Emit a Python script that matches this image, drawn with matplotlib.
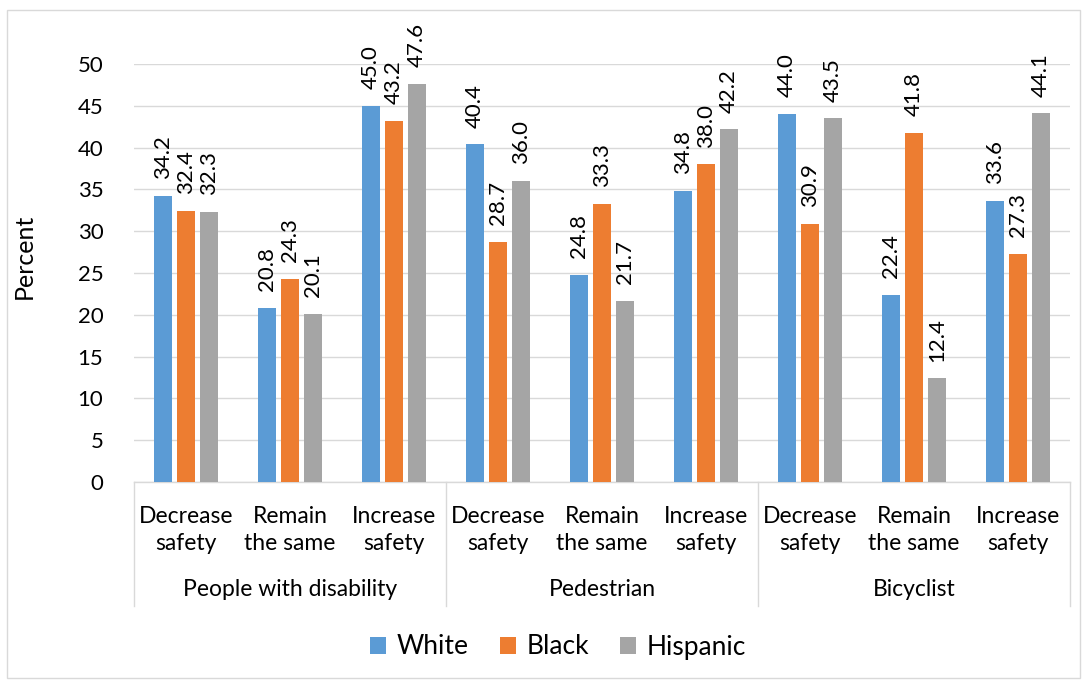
import matplotlib
matplotlib.use("Agg")
import matplotlib.pyplot as plt
from matplotlib.patches import Rectangle, Patch
from matplotlib.lines import Line2D
import numpy as np

plt.rcParams['font.family'] = ['Lato', 'DejaVu Sans']

groups = ["People with disability", "Pedestrian", "Bicyclist"]
responses = ["Decrease\nsafety", "Remain\nthe same", "Increase\nsafety"]
series = ["White", "Black", "Hispanic"]
white = [34.2, 20.8, 45.0, 40.4, 24.8, 34.8, 44.0, 22.4, 33.6]
black = [32.4, 24.3, 43.2, 28.7, 33.3, 38.0, 30.9, 41.8, 27.3]
hispanic = [32.3, 20.1, 47.6, 36.0, 21.7, 42.2, 43.5, 12.4, 44.1]
colors = ["#5B9BD5", "#ED7D31", "#A5A5A5"]
yticks = [0, 5, 10, 15, 20, 25, 30, 35, 40, 45, 50]

W, H = 1086, 681
fig = plt.figure(figsize=(W / 100, H / 100), dpi=100)
fig.patches.append(Rectangle((7 / W, 3 / H), 1073 / W, 668 / H, transform=fig.transFigure,
                             fill=False, edgecolor="#d9d9d9", linewidth=1.0))

left, right, bottom, top = 134, 1070, 482, 64
ax = fig.add_axes([left / W, 1 - bottom / H, (right - left) / W, (bottom - top) / H])

n = len(white)
x = np.arange(n)
bw = 0.175
step = 0.222
for i, (vals, col, name) in enumerate(zip([white, black, hispanic], colors, series)):
    pos = x + (i - 1) * step
    ax.bar(pos, vals, width=bw, color=col, label=name, zorder=3)
    for p, v in zip(pos, vals):
        ax.annotate(f"{v:.1f}", (p, v), xytext=(0, 12), textcoords="offset points",
                    rotation=90, ha="center", va="bottom", fontsize=16,
                    color="#000000", annotation_clip=False)

ax.set_xlim(-0.5, n - 0.5)
ax.set_ylim(0, 50)
ax.set_yticks(yticks)
ax.tick_params(axis="y", length=0, labelsize=16, pad=22)
ax.tick_params(axis="x", length=0, labelbottom=False)
ax.yaxis.grid(True, color="#d9d9d9", linewidth=1.0, zorder=0)
ax.set_axisbelow(True)
for s in ["top", "right", "left"]:
    ax.spines[s].set_visible(False)
ax.spines["bottom"].set_color("#d9d9d9")
ax.spines["bottom"].set_linewidth(1.0)

ax.set_ylabel("Percent", fontsize=18, labelpad=0)
ax.yaxis.set_label_coords(-(134 - 36) / (right - left), (bottom - 256) / (bottom - top))

# category labels and group labels under the axis
px_to_ax = 1.0 / (bottom - top)
trans = ax.get_xaxis_transform()
for k in range(n):
    ax.text(k, -(530 - bottom) * px_to_ax, responses[k % 3], transform=trans,
            ha="center", va="center", fontsize=16.5, linespacing=1.38)
for g, name in enumerate(groups):
    ax.text(3 * g + 1, -(590 - bottom) * px_to_ax, name, transform=trans,
            ha="center", va="center", fontsize=16.5)
for b in [-0.5, 2.5, 5.5, 8.5]:
    ax.add_line(Line2D([b, b], [0, -(606 - bottom) * px_to_ax], transform=trans,
                       color="#d9d9d9", linewidth=1.0, clip_on=False))

handles = [Patch(facecolor=c, edgecolor="none") for c in colors]
fig.legend(handles, series, loc="center", bbox_to_anchor=(558 / W, 1 - 647 / H),
           ncol=3, frameon=False, fontsize=19, handlelength=0.6, handleheight=0.6,
           handletextpad=0.4, columnspacing=1.2)

fig.savefig("out.png", dpi=100)
